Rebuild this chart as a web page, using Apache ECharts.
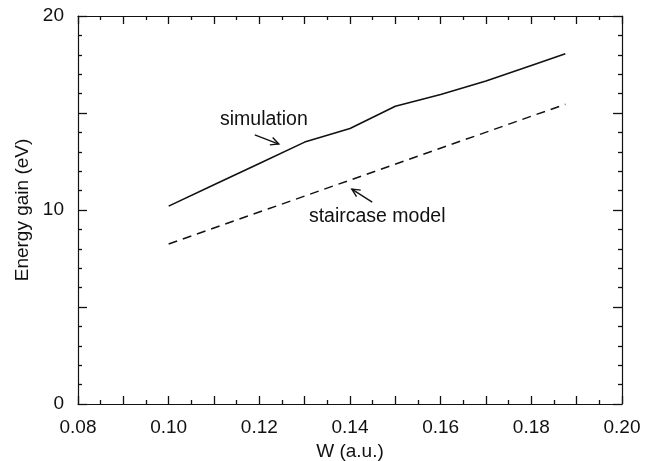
<!DOCTYPE html>
<html>
<head>
<meta charset="utf-8">
<script src="https://cdn.jsdelivr.net/npm/echarts@6/dist/echarts.min.js"></script>
<style>
  html, body { margin: 0; padding: 0; background: #fff; }
  #chart { width: 652px; height: 461px; }
</style>
</head>
<body>
<div id="chart"></div>
<script>
// data
const simW = [0.10, 0.11, 0.12, 0.13, 0.14, 0.15, 0.16, 0.17, 0.18, 0.1875]
const simE = [10.2, 11.3, 12.4, 13.5, 14.2, 15.35, 15.95, 16.65, 17.45, 18.05]
const stairW = [0.10, 0.1875]
const stairE = [8.25, 15.45]

// annotation anchors (data coords)
const simLabel = [0.1210, 14.64]
const simArrow = [[0.1190, 13.87], [0.1243, 13.40]]
const stairLabel = [0.1460, 9.64]
const stairArrow = [[0.1449, 10.41], [0.1404, 11.08]]

const font = 'Liberation Sans, Arial, sans-serif'
const black = '#111'

const chart = echarts.init(document.getElementById('chart'))

// axis builders, so the mirrored axes get their own option objects
const xAxisOf = (extra) => Object.assign({
  type: 'value', min: 0.08, max: 0.20, interval: 0.01,
  axisLine: { show: true, onZero: false, lineStyle: { color: black, width: 1.2 } },
  axisTick: { show: true, inside: true, length: 8, lineStyle: { color: black, width: 1.3 } },
  minorTick: { show: true, splitNumber: 2, length: 4, lineStyle: { color: black, width: 1.3 } },
  splitLine: { show: false }
}, extra)
const yAxisOf = (extra) => Object.assign({
  type: 'value', min: 0, max: 20, interval: 5,
  axisLine: { show: true, onZero: false, lineStyle: { color: black, width: 1.2 } },
  axisTick: { show: true, inside: true, length: 9, lineStyle: { color: black, width: 1.3 } },
  minorTick: { show: true, splitNumber: 5, length: 4, lineStyle: { color: black, width: 1.3 } },
  splitLine: { show: false }
}, extra)

chart.setOption({
  animation: false,
  backgroundColor: '#fff',
  grid: { left: 78, right: 30, top: 16, bottom: 57, containLabel: false, outerBoundsMode: 'none' },
  xAxis: [
    xAxisOf({
      position: 'bottom',
      name: 'W (a.u.)', nameLocation: 'middle', nameGap: 38,
      nameTextStyle: { fontFamily: font, fontSize: 19, color: black },
      axisLabel: {
        margin: 14, fontFamily: font, fontSize: 19, color: black,
        formatter: v => (Math.round(v * 100) % 2 === 0 ? v.toFixed(2) : '')
      }
    }),
    xAxisOf({ position: 'top', axisLabel: { show: false } })
  ],
  yAxis: [
    yAxisOf({
      position: 'left',
      name: 'Energy gain (eV)', nameLocation: 'middle', nameGap: 46,
      nameTextStyle: { fontFamily: font, fontSize: 19, color: black },
      axisLabel: {
        margin: 14, fontFamily: font, fontSize: 19, color: black,
        formatter: v => (v % 10 === 0 ? String(v) : '')
      }
    }),
    yAxisOf({ position: 'right', axisLabel: { show: false } })
  ],
  series: [
    {
      name: 'simulation', type: 'line', xAxisIndex: 0, yAxisIndex: 0,
      data: simW.map((w, i) => [w, simE[i]]),
      showSymbol: false, lineStyle: { color: black, width: 1.6 }
    },
    {
      name: 'staircase model', type: 'line', xAxisIndex: 0, yAxisIndex: 0,
      data: stairW.map((w, i) => [w, stairE[i]]),
      showSymbol: false, lineStyle: { color: black, width: 1.5, type: [9, 6] }
    }
  ]
})

// annotations placed from data coordinates
const px = p => chart.convertToPixel({ xAxisIndex: 0, yAxisIndex: 0 }, p)
function arrow(a, b) {
  const [x1, y1] = px(a), [x2, y2] = px(b)
  const ang = Math.atan2(y2 - y1, x2 - x1), h = 9, s = 0.45
  return [
    { type: 'line', shape: { x1, y1, x2, y2 }, style: { stroke: black, lineWidth: 1.4 } },
    { type: 'polyline', shape: { points: [
        [x2 - h * Math.cos(ang - s), y2 - h * Math.sin(ang - s)], [x2, y2],
        [x2 - h * Math.cos(ang + s), y2 - h * Math.sin(ang + s)]] },
      style: { stroke: black, lineWidth: 1.4, fill: null } }
  ]
}
function label(text, p) {
  const [x, y] = px(p)
  return { type: 'text', x, y, style: { text, fontFamily: font, fontSize: 19.5, fill: black, align: 'center', verticalAlign: 'middle' } }
}
chart.setOption({
  graphic: [
    label('simulation', simLabel), ...arrow(simArrow[0], simArrow[1]),
    label('staircase model', stairLabel), ...arrow(stairArrow[0], stairArrow[1])
  ]
})
</script>
</body>
</html>
